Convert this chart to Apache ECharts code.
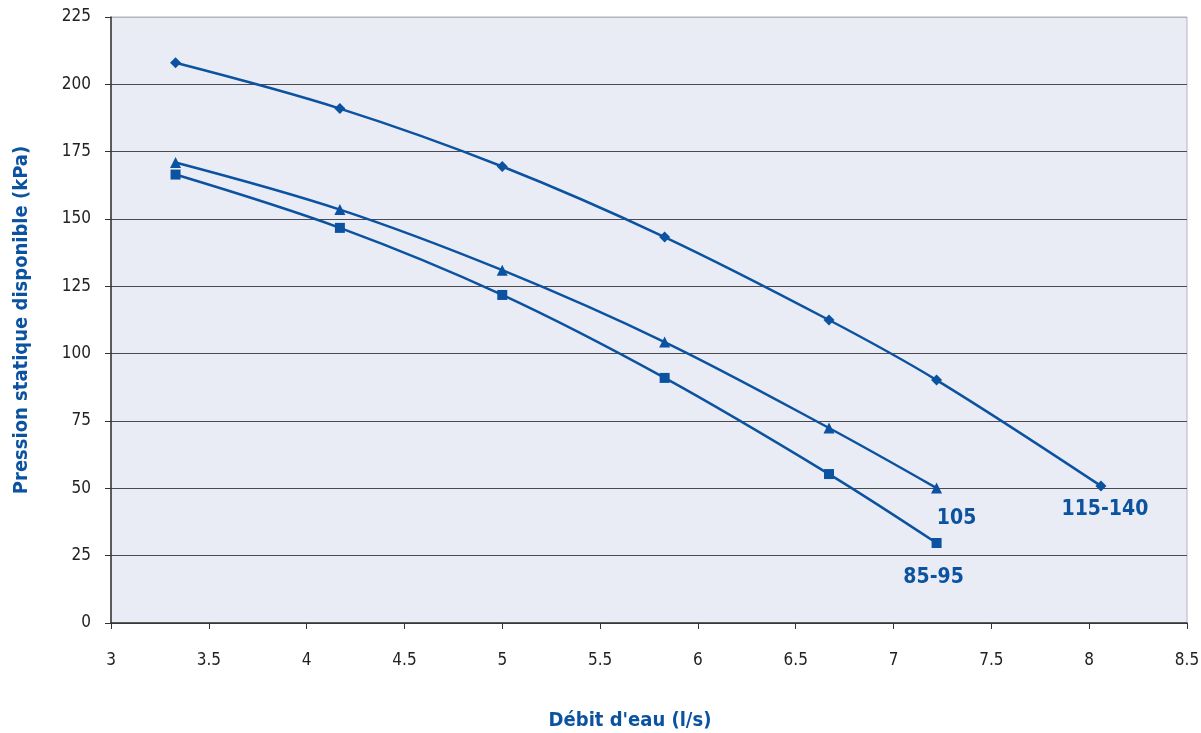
<!DOCTYPE html>
<html><head><meta charset="utf-8">
<script src="https://cdn.jsdelivr.net/npm/echarts@6/dist/echarts.min.js"></script>
<style>html,body{margin:0;padding:0;background:#fff}#c{width:1201px;height:733px}</style>
</head><body><div id="c"></div>
<script>
const flowX = [3.33, 4.17, 5.0, 5.83, 6.67, 7.22, 8.06];
const s115_140 = [208, 191, 169.5, 143.3, 112.5, 90.2, 50.9];
const s105 = [171, 153.5, 131, 104.3, 72.4, 50.1];
const s85_95 = [166.5, 146.7, 121.8, 91, 55.3, 29.7];
const seriesNames = ['115-140', '105', '85-95'];
const yTicks = [0, 25, 50, 75, 100, 125, 150, 175, 200, 225];

const FONT = '"DejaVu Sans Condensed", "DejaVu Sans", sans-serif';
const STRETCH = 'condensed';
const BLUE = '#0b53a0';

function build(vals, labelOffset) {
  return vals.map((v, i) => {
    const d = { value: [flowX[i], v] };
    if (i === vals.length - 1) {
      d.label = { show: true, position: 'bottom', offset: labelOffset };
    }
    return d;
  });
}

const labelStyle = { color: BLUE, fontFamily: FONT, fontStyle: STRETCH, fontWeight: 'bold', fontSize: 21, formatter: p => p.seriesName };
const gridColors = yTicks.map((t, i) => i === yTicks.length - 1 ? '#b4b4bc' : '#4a4a4f');

const chart = echarts.init(document.getElementById('c'), null, { renderer: 'canvas' });
chart.setOption({
  animation: false,
  backgroundColor: '#ffffff',
  grid: { left: 111, right: 14, top: 17, bottom: 110, containLabel: false, outerBoundsMode: 'none',
          show: true, backgroundColor: '#e9ebf5', borderColor: '#b4b4bc', borderWidth: 1 },
  xAxis: {
    type: 'value', min: 3, max: 8.5, interval: 0.5,
    name: "Débit d'eau (l/s)", nameLocation: 'middle', nameGap: 88,
    nameTextStyle: { color: BLUE, fontFamily: FONT, fontStyle: STRETCH, fontWeight: 'bold', fontSize: 20, padding: [0, 38, 0, 0] },
    axisLine: { show: true, lineStyle: { color: '#333', width: 1.5 } },
    axisTick: { show: true, inside: false, length: 6, lineStyle: { color: '#333' } },
    axisLabel: { color: '#222', fontFamily: FONT, fontStyle: STRETCH, fontSize: 17, margin: 29 },
    splitLine: { show: false }
  },
  yAxis: {
    type: 'value', min: 0, max: 225, interval: 25,
    name: 'Pression statique disponible (kPa)', nameLocation: 'middle', nameGap: 79,
    nameTextStyle: { color: BLUE, fontFamily: FONT, fontStyle: STRETCH, fontWeight: 'bold', fontSize: 20 },
    axisLine: { show: true, lineStyle: { color: '#333', width: 1.5 } },
    axisTick: { show: true, inside: false, length: 6, lineStyle: { color: '#333' } },
    axisLabel: { color: '#222', fontFamily: FONT, fontStyle: STRETCH, fontSize: 17, margin: 20 },
    splitLine: { show: true, lineStyle: { color: gridColors, width: 1.2 } }
  },
  series: [
    { name: seriesNames[0], type: 'line', smooth: 0.35, data: build(s115_140, [4, 3]),
      symbol: 'diamond', symbolSize: 11, lineStyle: { color: BLUE, width: 2.5 }, itemStyle: { color: BLUE }, label: labelStyle },
    { name: seriesNames[1], type: 'line', smooth: 0.35, data: build(s105, [20, 9]),
      symbol: 'triangle', symbolSize: 11, lineStyle: { color: BLUE, width: 2.5 }, itemStyle: { color: BLUE }, label: labelStyle },
    { name: seriesNames[2], type: 'line', smooth: 0.35, data: build(s85_95, [-3, 14]),
      symbol: 'rect', symbolSize: 10, lineStyle: { color: BLUE, width: 2.5 }, itemStyle: { color: BLUE }, label: labelStyle }
  ]
});
</script></body></html>
